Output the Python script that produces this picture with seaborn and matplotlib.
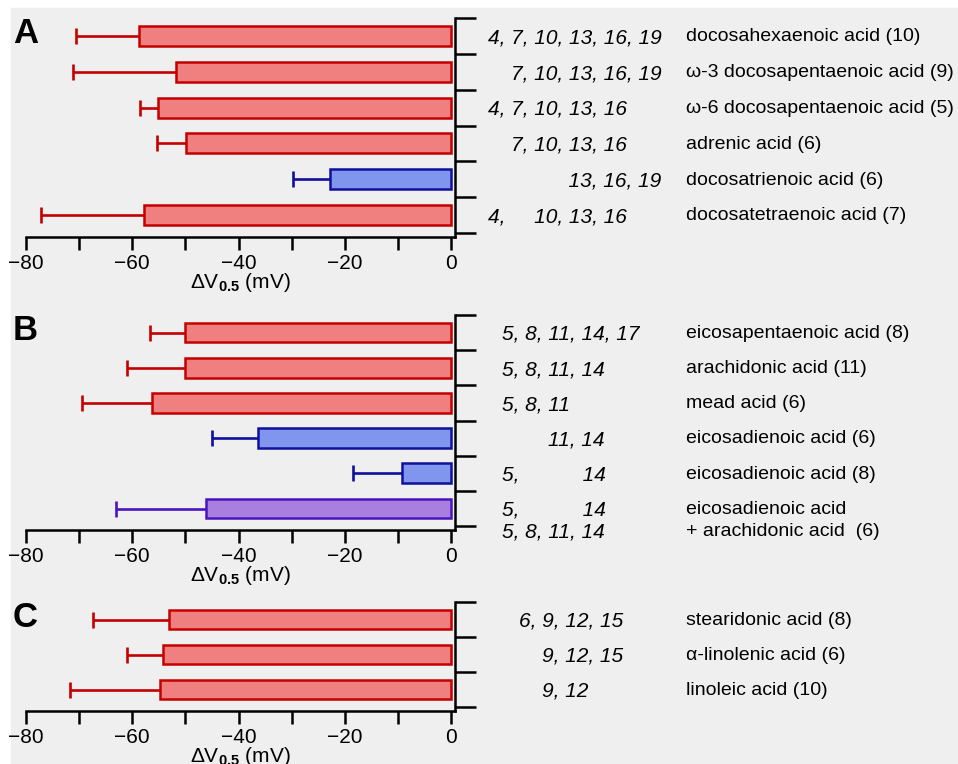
import numpy as np
import pandas as pd
import matplotlib
matplotlib.use("Agg")
import matplotlib.pyplot as plt
import matplotlib.ticker as ticker
import matplotlib.transforms as mtransforms
from matplotlib.patches import Rectangle
import seaborn as sns

sns.set_theme(style="ticks")
plt.rcParams["font.family"] = ["Liberation Sans", "DejaVu Sans"]
plt.rcParams["mathtext.fontset"] = "custom"
plt.rcParams["mathtext.rm"] = "Liberation Sans"
plt.rcParams["mathtext.bf"] = "Liberation Sans:bold"
plt.rcParams["text.color"] = "black"
plt.rcParams["axes.labelcolor"] = "black"

# panel A: 22-carbon fatty acids
names_a = ["docosahexaenoic acid (10)", "ω-3 docosapentaenoic acid (9)",
           "ω-6 docosapentaenoic acid (5)", "adrenic acid (6)",
           "docosatrienoic acid (6)", "docosatetraenoic acid (7)"]
bonds_a = [(4, 7, 10, 13, 16, 19), (7, 10, 13, 16, 19), (4, 7, 10, 13, 16),
           (7, 10, 13, 16), (13, 16, 19), (4, 10, 13, 16)]
dv_a = [-58.8, -51.8, -55.1, -49.9, -22.8, -57.7]
sem_a = [11.8, 19.4, 3.4, 5.5, 6.9, 19.5]
kind_a = ["strong", "strong", "strong", "strong", "weak", "strong"]

# panel B: 20-carbon fatty acids
names_b = ["eicosapentaenoic acid (8)", "arachidonic acid (11)", "mead acid (6)",
           "eicosadienoic acid (6)", "eicosadienoic acid (8)",
           "eicosadienoic acid\n+ arachidonic acid  (6)"]
bonds_b = [(5, 8, 11, 14, 17), (5, 8, 11, 14), (5, 8, 11), (11, 14), (5, 14),
           ((5, 14), (5, 8, 11, 14))]
dv_b = [-50.1, -50.1, -56.3, -36.4, -9.2, -46.2]
sem_b = [6.5, 10.9, 13.1, 8.5, 9.2, 16.8]
kind_b = ["strong", "strong", "strong", "weak", "weak", "mixed"]

# panel C: 18-carbon fatty acids
names_c = ["stearidonic acid (8)", "α-linolenic acid (6)", "linoleic acid (10)"]
bonds_c = [(6, 9, 12, 15), (9, 12, 15), (9, 12)]
dv_c = [-53.1, -54.3, -54.8]
sem_c = [14.3, 6.7, 16.9]
kind_c = ["strong", "strong", "strong"]

colors = {
    "strong": ("#f08080", "#c40000"),
    "weak": ("#8096ee", "#10109c"),
    "mixed": ("#a87ede", "#4a14c0"),
}

W, H = 958, 764
fig = plt.figure(figsize=(W / 100, H / 100), dpi=100)
fig.patch.set_facecolor("white")
fig.add_artist(Rectangle((11 / W, 0), 1, 1 - 8 / H, transform=fig.transFigure,
                         color="#efefef", zorder=-10))


def bond_text(row, cols):
    # keep each number in its column: blank out missing ones with spaces
    last = cols.index(row[-1])
    parts = []
    for j, c in enumerate(cols[: last + 1]):
        tok = str(c) + (", " if j < last else "")
        if c in row:
            parts.append(tok)
        else:
            parts.append(" " * sum(2 if ch.isdigit() else 1 for ch in tok))
    return "".join(parts)


def draw_panel(top, bottom, letter, names, bonds, dv, sem, kind, num_x):
    n = len(names)
    ax = fig.add_axes([26 / W, 1 - bottom / H, 429 / W, (bottom - top) / H])
    ax.set_facecolor("none")
    df = pd.DataFrame({"row": [str(i) for i in range(n)], "dv": dv, "kind": kind})
    pal = {k: colors[k][0] for k in set(kind)}
    sns.barplot(data=df, x="dv", y="row", hue="kind", palette=pal, dodge=False,
                legend=False, width=0.56, saturation=1, orient="h", ax=ax)
    for p in ax.patches:
        i = int(round(p.get_y() + p.get_height() / 2))
        p.set_edgecolor(colors[kind[i]][1])
        p.set_linewidth(1.8)

    for i in range(n):
        eb = ax.errorbar(dv[i], i, xerr=[[sem[i]], [0]], fmt="none",
                         ecolor=colors[kind[i]][1], elinewidth=1.9,
                         capsize=5.5, capthick=1.9, zorder=1)
        for cap in eb[1]:
            if np.allclose(cap.get_xdata(), dv[i]):
                cap.set_visible(False)

    ax.set_xlim(-80, 0.75)
    ax.set_ylim(n - 0.5 + 0.11, -0.5)
    ax.xaxis.set_major_locator(ticker.MultipleLocator(20))
    ax.xaxis.set_minor_locator(ticker.MultipleLocator(10))
    ax.tick_params(axis="x", which="both", direction="out", length=9.5,
                   width=1.8, labelsize=15, pad=2.5, colors="black")
    ax.yaxis.tick_right()
    ax.set_yticks(np.arange(n + 1) - 0.5)
    ax.set_yticklabels([])
    ax.tick_params(axis="y", direction="out", length=15, width=1.8,
                   right=True, left=False, labelright=False, colors="black")
    ax.spines[["top", "left"]].set_visible(False)
    for s in ("right", "bottom"):
        ax.spines[s].set_linewidth(1.8)
        ax.spines[s].set_color("black")
    ax.set_ylabel("")
    ax.set_xlabel(r"ΔV$_{\mathbf{0.5}}$ (mV)", fontsize=15, labelpad=-1,
                  color="black")

    cols = sorted({b for row in bonds for b in
                   (sum(row, ()) if isinstance(row[0], tuple) else row)})
    tr = mtransforms.blended_transform_factory(fig.transFigure, ax.transData)
    for i in range(n):
        lines = bonds[i] if isinstance(bonds[i][0], tuple) else (bonds[i],)
        for k, line in enumerate(lines):
            ax.text(num_x / W, i + 0.62 * k + 0.05, bond_text(line, cols),
                    transform=tr, fontsize=15, style="italic", va="center",
                    ha="left", color="black")
        for k, line in enumerate(names[i].split("\n")):
            ax.text(686 / W, i + 0.62 * k + 0.02, line, transform=tr,
                    fontsize=14, va="center", ha="left", color="black")

    fig.text(13 / W, 1 - (top + 25) / H, letter, fontsize=25,
             fontweight="bold", va="baseline", ha="left", color="black")
    return ax


draw_panel(18, 237, "A", names_a, bonds_a, dv_a, sem_a, kind_a, 488)
draw_panel(315, 530, "B", names_b, bonds_b, dv_b, sem_b, kind_b, 502)
draw_panel(602, 711, "C", names_c, bonds_c, dv_c, sem_c, kind_c, 519)

fig.savefig("out.png", dpi=100)
